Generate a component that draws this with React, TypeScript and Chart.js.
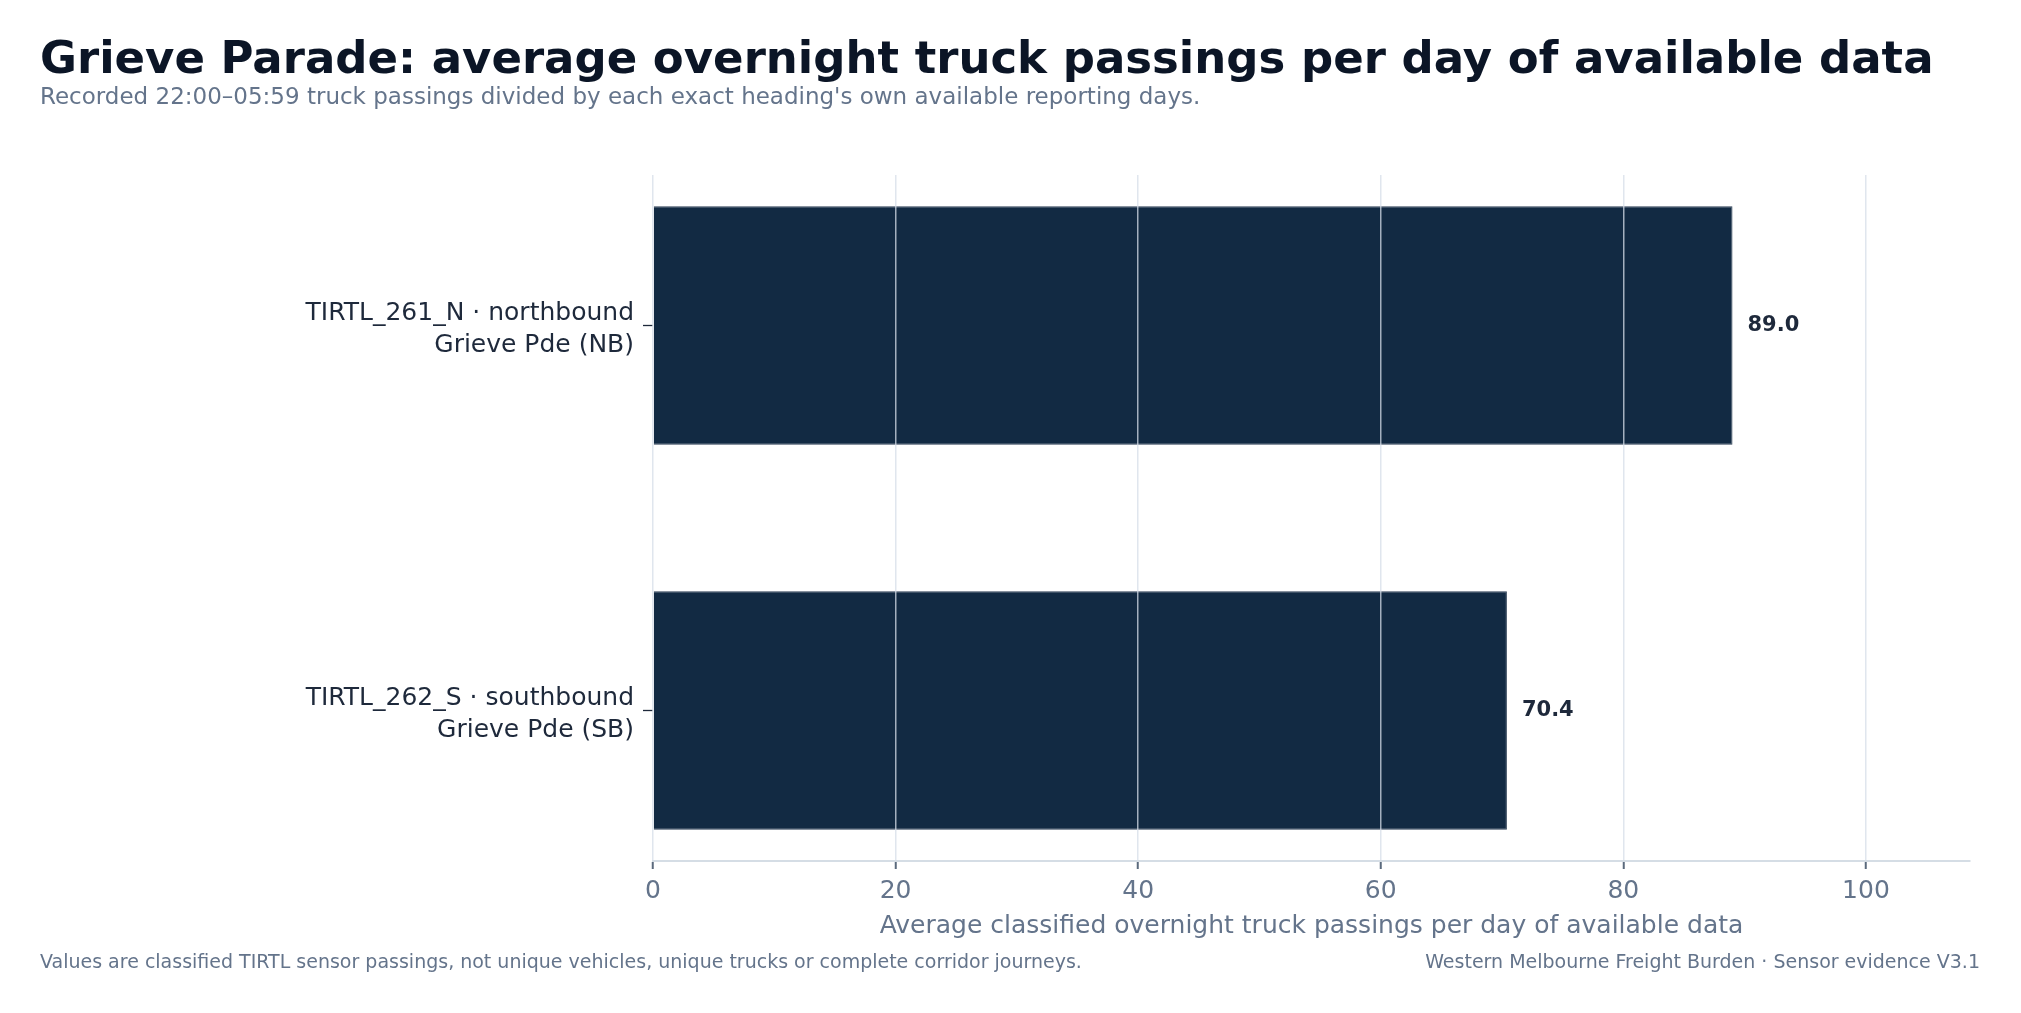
import { useEffect, useRef } from 'react'
import { Chart, BarController, BarElement, LinearScale } from 'chart.js'
import type { Plugin } from 'chart.js'

Chart.register(BarController, BarElement, LinearScale)

const sensorLabels = [
  ['TIRTL_261_N · northbound', 'Grieve Pde (NB)'],
  ['TIRTL_262_S · southbound', 'Grieve Pde (SB)'],
]
const passingsPerDay = [89.0, 70.4]
const xTicks = [0, 20, 40, 60, 80, 100]
const xMax = 108.58
const yMin = -0.391
const yMax = 1.391

const FONT = '"DejaVu Sans", "Noto Sans", sans-serif'

// value printed just past the end of each bar
const valueLabels: Plugin<'bar'> = {
  id: 'valueLabels',
  afterDatasetsDraw(chart) {
    const { ctx } = chart
    const meta = chart.getDatasetMeta(0)
    ctx.save()
    ctx.font = `bold 21px ${FONT}`
    ctx.fillStyle = '#1e293b'
    ctx.textAlign = 'left'
    ctx.textBaseline = 'middle'
    meta.data.forEach((bar, i) => {
      ctx.fillText(passingsPerDay[i].toFixed(1), bar.x + 15, bar.y)
    })
    ctx.restore()
  },
}

export default function App() {
  const canvasRef = useRef<HTMLCanvasElement>(null)

  useEffect(() => {
    if (!canvasRef.current) return
    Chart.defaults.font.family = FONT
    const chart = new Chart(canvasRef.current, {
      type: 'bar',
      data: {
        datasets: [{
          data: passingsPerDay.map((v, i) => ({ x: v, y: i })),
          backgroundColor: '#122a43',
          borderColor: '#2d3f55',
          borderWidth: 1,
          barPercentage: 0.62,
          categoryPercentage: 1,
        }],
      },
      options: {
        indexAxis: 'y',
        responsive: true,
        maintainAspectRatio: false,
        animation: false,
        layout: { padding: { top: 175, right: 51, left: 0, bottom: 0 } },
        plugins: { legend: { display: false }, tooltip: { enabled: false } },
        scales: {
          x: {
            type: 'linear',
            min: 0,
            max: xMax,
            afterBuildTicks: (s) => { s.ticks = xTicks.map(v => ({ value: v })) },
            afterFit: (s) => { s.height = 152 },
            ticks: { color: '#64748b', font: { size: 25 }, padding: 7 },
            grid: {
              z: 1,
              color: 'rgba(214,222,232,0.75)',
              lineWidth: 1.5,
              tickColor: '#5b6a7d',
              tickWidth: 2,
              tickLength: 8,
            },
            border: { display: true, color: '#d5dde5', width: 2, z: 1 },
            title: {
              display: true,
              text: 'Average classified overnight truck passings per day of available data',
              color: '#64748b',
              font: { size: 25 },
              padding: { top: 0, bottom: 72 },
            },
          },
          y: {
            type: 'linear',
            reverse: true,
            offset: false,
            min: yMin,
            max: yMax,
            afterBuildTicks: (s) => { s.ticks = sensorLabels.map((_, i) => ({ value: i })) },
            afterFit: (s) => { s.width = 653 },
            ticks: {
              callback: (_v, i) => sensorLabels[i],
              color: '#1e293b',
              font: { size: 25, lineHeight: 1.25 },
              padding: 9,
              labelOffset: 4,
            },
            grid: { offset: false, drawOnChartArea: false, tickLength: 10, tickColor: '#1e293b', tickWidth: 1.3 },
            border: { display: false },
          },
        },
      },
      plugins: [valueLabels],
    })
    return () => { chart.destroy() }
  }, [])

  const text = { position: 'absolute' as const, whiteSpace: 'nowrap' as const, lineHeight: 1 }

  return (
    <div style={{ position: 'fixed', left: 0, top: 0, width: 2021, height: 1013, background: '#fff', fontFamily: FONT }}>
      <div style={{ position: 'absolute', inset: 0 }}>
        <canvas ref={canvasRef} />
      </div>
      <div style={{ ...text, left: 40, top: 35, fontSize: 45, fontWeight: 'bold', color: '#0b1526' }}>
        Grieve Parade: average overnight truck passings per day of available data
      </div>
      <div style={{ ...text, left: 40, top: 85, fontSize: 23, color: '#64748b' }}>
        Recorded 22:00–05:59 truck passings divided by each exact heading's own available reporting days.
      </div>
      <div style={{ ...text, left: 40, top: 952, fontSize: 19, color: '#64748b' }}>
        Values are classified TIRTL sensor passings, not unique vehicles, unique trucks or complete corridor journeys.
      </div>
      <div style={{ ...text, right: 41, top: 952, fontSize: 19, color: '#64748b' }}>
        Western Melbourne Freight Burden · Sensor evidence V3.1
      </div>
    </div>
  )
}
